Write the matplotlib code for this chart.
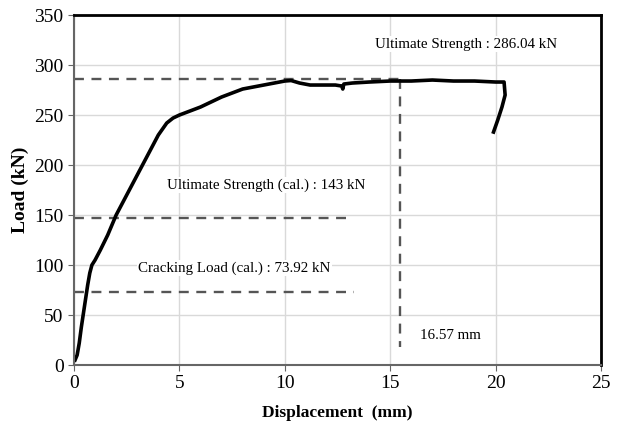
import matplotlib.pyplot as plt

# load-displacement curve
disp = [0.05, 0.15, 0.25, 0.35, 0.45, 0.55, 0.65, 0.75, 0.85, 1.0, 1.25, 1.6, 2.0, 2.5, 3.0,
        3.5, 4.0, 4.4, 4.7, 5.0, 5.5, 6.0, 6.5, 7.0, 7.5, 8.0, 8.5, 9.0, 9.5, 10.0, 10.3,
        10.7, 11.2, 11.8, 12.4, 12.7, 12.75, 12.8, 13.2, 14.0, 15.0, 16.0, 17.0, 18.0,
        19.0, 20.0, 20.4, 20.45, 20.3, 20.1, 19.9]
load = [5, 10, 22, 38, 52, 66, 80, 92, 100, 105, 115, 130, 150, 170, 190,
        210, 230, 242, 247, 250, 254, 258, 263, 268, 272, 276, 278, 280, 282, 284, 284.5,
        282, 280, 280, 280, 279, 276, 281, 282, 283, 284, 284, 285, 284,
        284, 283, 283, 270, 258, 245, 233]

ult_load = 286.04
ult_cal = 147
crack_cal = 73.3
ult_disp = 15.47

xticks = [0, 5, 10, 15, 20, 25]
yticks = [0, 50, 100, 150, 200, 250, 300, 350]

plt.rcParams['font.family'] = ['Liberation Serif', 'DejaVu Serif']

fig = plt.figure(figsize=(6.19, 4.29), dpi=100)
ax = fig.add_axes([0.1195, 0.149, 0.8515, 0.816])

ax.grid(True, color='#d9d9d9', lw=1)
ax.set_axisbelow(True)

dash = dict(color='#555555', lw=1.7, ls=(0, (4.2, 3.2)))
ax.plot([0, ult_disp], [ult_load, ult_load], **dash)
ax.plot([ult_disp, ult_disp], [ult_load, 18], **dash)
ax.plot([0, 13.2], [ult_cal, ult_cal], **dash)
ax.plot([0, 13.3], [crack_cal, crack_cal], **dash)

ax.plot(disp, load, color='black', lw=2.6, solid_joinstyle='round')

box = dict(facecolor='white', edgecolor='none', pad=1)
ax.text(14.3, 321, 'Ultimate Strength : 286.04 kN', fontsize=10.8, va='center', bbox=box)
ax.text(4.4, 180, 'Ultimate Strength (cal.) : 143 kN', fontsize=10.8, va='center', bbox=box)
ax.text(3.05, 97, 'Cracking Load (cal.) : 73.92 kN', fontsize=10.8, va='center', bbox=box)
ax.text(16.4, 30, '16.57 mm', fontsize=10.8, va='center', bbox=box)

ax.set_xlim(0, 25)
ax.set_ylim(0, 350)
ax.set_xticks(xticks)
ax.set_yticks(yticks)
ax.tick_params(labelsize=14, color='#666666', length=4)

for s in ['top', 'right']:
    ax.spines[s].set_color('black')
    ax.spines[s].set_linewidth(2)
for s in ['left', 'bottom']:
    ax.spines[s].set_color('#666666')
    ax.spines[s].set_linewidth(1.5)

ax.set_xlabel('Displacement  (mm)', fontsize=12.5, fontweight='bold', labelpad=9)
ax.set_ylabel('Load (kN)', fontsize=14, fontweight='bold')

fig.savefig('out.png', dpi=100)
